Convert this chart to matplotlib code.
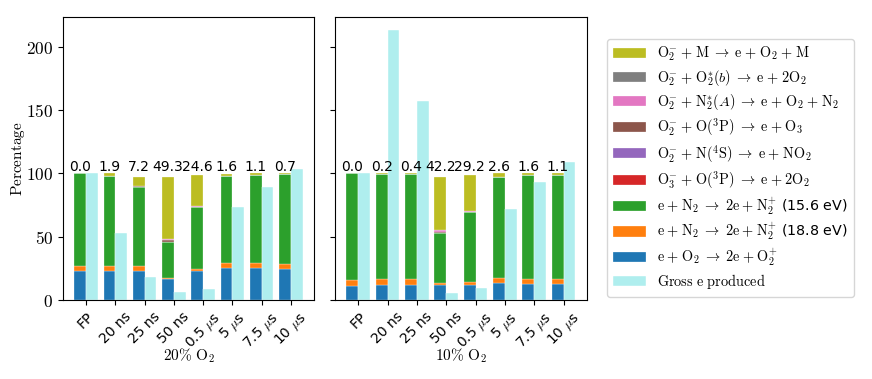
import matplotlib
matplotlib.use("Agg")
import matplotlib.pyplot as plt
import numpy as np
from matplotlib.ticker import FuncFormatter, MultipleLocator

plt.rcParams['mathtext.fontset'] = 'cm'

categories = ["FP", "20 ns", "25 ns", "50 ns", r"0.5 $\mu$s", r"5 $\mu$s", r"7.5 $\mu$s", r"10 $\mu$s"]

# 20% O2
p20_O2ion   = [22.7, 23.2, 22.7, 16.3, 22.7, 25.6, 25.1, 24.5]
p20_N2ion188 = [4.5, 4.0, 3.9, 1.4, 2.1, 3.4, 3.9, 4.0]
p20_N2ion156 = [72.8, 70.8, 62.6, 28.3, 48.3, 69.0, 69.9, 70.8]
p20_O3mO    = [0.0, 0.0, 0.0, 0.0, 0.0, 0.0, 0.0, 0.0]
p20_N4S     = [0.0, 0.0, 0.2, 0.2, 0.0, 0.0, 0.0, 0.0]
p20_O3P     = [0.0, 0.1, 0.4, 1.2, 0.6, 0.0, 0.0, 0.0]
p20_N2A     = [0.0, 0.0, 0.4, 0.8, 0.2, 0.0, 0.0, 0.0]
p20_O2b     = [0.0, 0.0, 0.0, 0.0, 0.0, 0.0, 0.0, 0.0]
p20_O2mM    = [0.0, 1.9, 7.2, 49.3, 24.6, 1.6, 1.1, 0.7]
p20_gross   = [100.0, 53.1, 18.5, 6.0, 8.7, 73.1, 89.0, 103.8]

# 10% O2
p10_O2ion   = [11.3, 12.1, 12.1, 12.1, 11.9, 13.2, 13.0, 12.7]
p10_N2ion188 = [4.8, 4.5, 4.5, 1.6, 2.4, 4.2, 3.9, 4.2]
p10_N2ion156 = [83.9, 83.2, 83.0, 39.1, 55.1, 80.0, 81.5, 82.0]
p10_O3mO    = [0.0, 0.0, 0.0, 0.0, 0.0, 0.0, 0.0, 0.0]
p10_N4S     = [0.0, 0.0, 0.0, 0.2, 0.0, 0.0, 0.0, 0.0]
p10_O3P     = [0.0, 0.0, 0.0, 0.8, 0.4, 0.0, 0.0, 0.0]
p10_N2A     = [0.0, 0.0, 0.0, 1.2, 0.1, 0.0, 0.0, 0.0]
p10_O2b     = [0.0, 0.0, 0.0, 0.0, 0.0, 0.0, 0.0, 0.0]
p10_O2mM    = [0.0, 0.2, 0.4, 42.2, 29.2, 2.6, 1.6, 1.1]
p10_gross   = [100.0, 212.8, 157.1, 5.8, 9.7, 71.8, 93.2, 109.3]

P = r"\;{+}\;"
R = r"\;{\rightarrow}\;"
labels = [
    r"$\mathrm{e}" + P + r"\mathrm{O}_2" + R + r"2\mathrm{e}" + P + r"\mathrm{O}_2^{+}$",
    r"$\mathrm{e}" + P + r"\mathrm{N}_2" + R + r"2\mathrm{e}" + P + r"\mathrm{N}_2^{+}$ (18.8 eV)",
    r"$\mathrm{e}" + P + r"\mathrm{N}_2" + R + r"2\mathrm{e}" + P + r"\mathrm{N}_2^{+}$ (15.6 eV)",
    r"$\mathrm{O}_3^{-}" + P + r"\mathrm{O}(^3\mathrm{P})" + R + r"\mathrm{e}" + P + r"2\mathrm{O}_2$",
    r"$\mathrm{O}_2^{-}" + P + r"\mathrm{N}(^4\mathrm{S})" + R + r"\mathrm{e}" + P + r"\mathrm{NO}_2$",
    r"$\mathrm{O}_2^{-}" + P + r"\mathrm{O}(^3\mathrm{P})" + R + r"\mathrm{e}" + P + r"\mathrm{O}_3$",
    r"$\mathrm{O}_2^{-}" + P + r"\mathrm{N}_2^{*}(A)" + R + r"\mathrm{e}" + P + r"\mathrm{O}_2" + P + r"\mathrm{N}_2$",
    r"$\mathrm{O}_2^{-}" + P + r"\mathrm{O}_2^{*}(b)" + R + r"\mathrm{e}" + P + r"2\mathrm{O}_2$",
    r"$\mathrm{O}_2^{-}" + P + r"\mathrm{M}" + R + r"\mathrm{e}" + P + r"\mathrm{O}_2" + P + r"\mathrm{M}$",
]
gross_label = r"$\mathrm{Gross\ e\ produced}$"
colors = ["tab:blue", "tab:orange", "tab:green", "tab:red", "tab:purple",
          "tab:brown", "tab:pink", "tab:gray", "tab:olive"]
gross_color = "#AFEEEE"

fig = plt.figure(figsize=(8.72, 3.79), dpi=100)
ax1 = fig.add_axes([0.0722, 0.2084, 0.2878, 0.7467])
ax2 = fig.add_axes([0.3842, 0.2084, 0.2886, 0.7467], sharey=ax1)

panels = [
    (ax1, [p20_O2ion, p20_N2ion188, p20_N2ion156, p20_O3mO, p20_N4S, p20_O3P, p20_N2A, p20_O2b, p20_O2mM], p20_gross, r"$\mathrm{20\%\ O_2}$"),
    (ax2, [p10_O2ion, p10_N2ion188, p10_N2ion156, p10_O3mO, p10_N4S, p10_O3P, p10_N2A, p10_O2b, p10_O2mM], p10_gross, r"$\mathrm{10\%\ O_2}$"),
]
x = np.arange(len(categories))
w = 0.4
stack_handles = None
gross_handle = None
for ax, series, gross, xlabel in panels:
    bottom = np.zeros(len(categories))
    hs = []
    for vals, c, lab in zip(series, colors, labels):
        h = ax.bar(x, vals, width=-w, align='edge', bottom=bottom, color=c,
                   label=lab, edgecolor='white', linewidth=0.2)
        bottom += np.array(vals)
        hs.append(h)
    gross_handle = ax.bar(x, gross, width=w, align='edge', color=gross_color,
                          label=gross_label, edgecolor='white', linewidth=0.3)
    stack_handles = hs
    for xi, v in zip(x, series[-1]):
        ax.text(xi - w / 2, 99.3, f"{v:.1f}", ha='center', va='bottom', fontsize=10)
    ax.set_xticks(x)
    ax.set_xticklabels(categories, rotation=45, fontsize=10)
    ax.set_xlabel(xlabel, fontsize=11)
    ax.xaxis.set_label_coords(0.5, -0.165)

ax1.yaxis.set_major_locator(MultipleLocator(50))
ax1.set_ylabel(r"$\mathrm{Percentage}$", fontsize=11)
ax1.yaxis.set_label_coords(-0.145, 0.5)
ax1.yaxis.set_major_formatter(FuncFormatter(lambda v, p: r"$\mathrm{%d}$" % v))
ax1.tick_params(axis='y', labelsize=12.5)
plt.setp(ax2.get_yticklabels(), visible=False)

handles = stack_handles[::-1] + [gross_handle]
leg = fig.legend(handles, [h.get_label() for h in handles],
                 loc='upper left', bbox_to_anchor=(0.696, 0.897), borderaxespad=0,
                 fontsize=10.3, handlelength=2.3, labelspacing=0.31, frameon=True)

fig.savefig("out.png", dpi=100)
